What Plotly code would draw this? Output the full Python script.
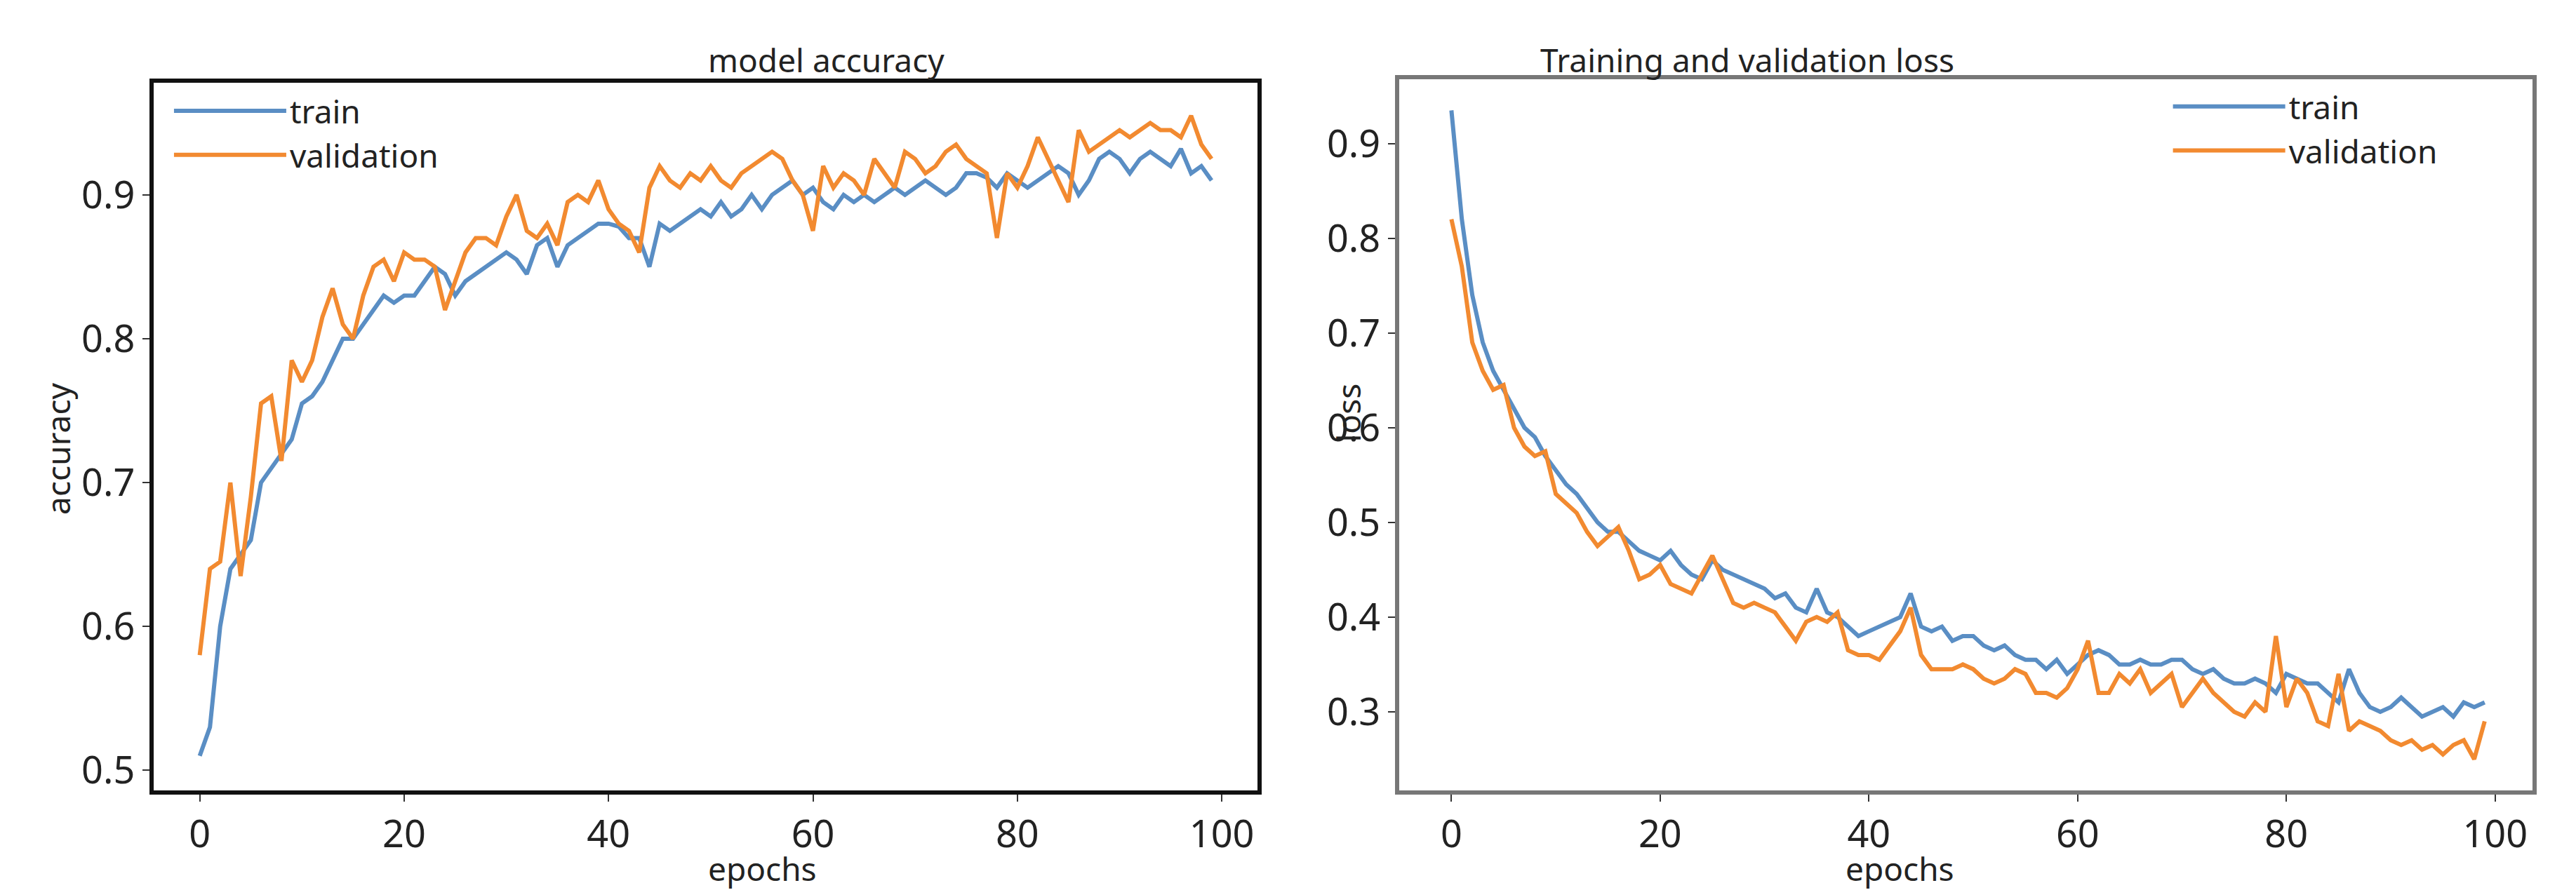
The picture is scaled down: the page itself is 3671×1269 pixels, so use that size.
import plotly.graph_objects as go
from plotly.subplots import make_subplots

acc_train = [0.51, 0.53, 0.60, 0.64, 0.65, 0.66, 0.70, 0.71, 0.72, 0.73,
             0.755, 0.76, 0.77, 0.785, 0.80, 0.80, 0.81, 0.82, 0.83, 0.825,
             0.83, 0.83, 0.84, 0.85, 0.845, 0.83, 0.84, 0.845, 0.85, 0.855,
             0.86, 0.855, 0.845, 0.865, 0.87, 0.85, 0.865, 0.87, 0.875, 0.88,
             0.88, 0.878, 0.87, 0.87, 0.85, 0.88, 0.875, 0.88, 0.885, 0.89,
             0.885, 0.895, 0.885, 0.89, 0.90, 0.89, 0.90, 0.905, 0.91, 0.90,
             0.905, 0.895, 0.89, 0.90, 0.895, 0.90, 0.895, 0.90, 0.905, 0.90,
             0.905, 0.91, 0.905, 0.90, 0.905, 0.915, 0.915, 0.912, 0.905, 0.915,
             0.91, 0.905, 0.91, 0.915, 0.92, 0.915, 0.90, 0.91, 0.925, 0.93,
             0.925, 0.915, 0.925, 0.93, 0.925, 0.92, 0.932, 0.915, 0.92, 0.91]
acc_val = [0.58, 0.64, 0.645, 0.70, 0.635, 0.69, 0.755, 0.76, 0.715, 0.785,
           0.77, 0.785, 0.815, 0.835, 0.81, 0.80, 0.83, 0.85, 0.855, 0.84,
           0.86, 0.855, 0.855, 0.85, 0.82, 0.84, 0.86, 0.87, 0.87, 0.865,
           0.885, 0.90, 0.875, 0.87, 0.88, 0.865, 0.895, 0.90, 0.895, 0.91,
           0.89, 0.88, 0.875, 0.86, 0.905, 0.92, 0.91, 0.905, 0.915, 0.91,
           0.92, 0.91, 0.905, 0.915, 0.92, 0.925, 0.93, 0.925, 0.91, 0.90,
           0.875, 0.92, 0.905, 0.915, 0.91, 0.90, 0.925, 0.915, 0.905, 0.93,
           0.925, 0.915, 0.92, 0.93, 0.935, 0.925, 0.92, 0.915, 0.87, 0.915,
           0.905, 0.92, 0.94, 0.925, 0.91, 0.895, 0.945, 0.93, 0.935, 0.94,
           0.945, 0.94, 0.945, 0.95, 0.945, 0.945, 0.94, 0.955, 0.935, 0.925]
loss_train = [0.935, 0.82, 0.74, 0.69, 0.66, 0.64, 0.62, 0.60, 0.59, 0.57,
              0.555, 0.54, 0.53, 0.515, 0.50, 0.49, 0.49, 0.48, 0.47, 0.465,
              0.46, 0.47, 0.455, 0.445, 0.44, 0.46, 0.45, 0.445, 0.44, 0.435,
              0.43, 0.42, 0.425, 0.41, 0.405, 0.43, 0.405, 0.40, 0.39, 0.38,
              0.385, 0.39, 0.395, 0.40, 0.425, 0.39, 0.385, 0.39, 0.375, 0.38,
              0.38, 0.37, 0.365, 0.37, 0.36, 0.355, 0.355, 0.345, 0.355, 0.34,
              0.35, 0.36, 0.365, 0.36, 0.35, 0.35, 0.355, 0.35, 0.35, 0.355,
              0.355, 0.345, 0.34, 0.345, 0.335, 0.33, 0.33, 0.335, 0.33, 0.32,
              0.34, 0.335, 0.33, 0.33, 0.32, 0.31, 0.345, 0.32, 0.305, 0.30,
              0.305, 0.315, 0.305, 0.295, 0.30, 0.305, 0.295, 0.31, 0.305, 0.31]
loss_val = [0.82, 0.77, 0.69, 0.66, 0.64, 0.645, 0.60, 0.58, 0.57, 0.575,
            0.53, 0.52, 0.51, 0.49, 0.475, 0.485, 0.495, 0.47, 0.44, 0.445,
            0.455, 0.435, 0.43, 0.425, 0.445, 0.465, 0.44, 0.415, 0.41, 0.415,
            0.41, 0.405, 0.39, 0.375, 0.395, 0.40, 0.395, 0.405, 0.365, 0.36,
            0.36, 0.355, 0.37, 0.385, 0.41, 0.36, 0.345, 0.345, 0.345, 0.35,
            0.345, 0.335, 0.33, 0.335, 0.345, 0.34, 0.32, 0.32, 0.315, 0.325,
            0.345, 0.375, 0.32, 0.32, 0.34, 0.33, 0.345, 0.32, 0.33, 0.34,
            0.305, 0.32, 0.335, 0.32, 0.31, 0.30, 0.295, 0.31, 0.30, 0.38,
            0.305, 0.335, 0.32, 0.29, 0.285, 0.34, 0.28, 0.29, 0.285, 0.28,
            0.27, 0.265, 0.27, 0.26, 0.265, 0.255, 0.265, 0.27, 0.25, 0.29]

BLUE = "#5a8ec4"
ORANGE = "#f28a30"
FONT = "Noto Sans"

fig = make_subplots(rows=1, cols=2)

def add(vals, name, color, col, legend):
    fig.add_trace(go.Scatter(x=list(range(len(vals))), y=vals, mode="lines", name=name,
                             line=dict(color=color, width=6), legend=legend),
                  row=1, col=col)

add(acc_train, "train", BLUE, 1, "legend")
add(acc_val, "validation", ORANGE, 1, "legend")
add(loss_train, "train", BLUE, 2, "legend2")
add(loss_val, "validation", ORANGE, 2, "legend2")

axis_common = dict(showgrid=False, zeroline=False, ticks="outside", ticklen=10,
                   tickwidth=2, tickcolor="#333", mirror=True, showline=True,
                   tickfont=dict(size=54, family=FONT, color="#222"))
fig.update_xaxes(axis_common, tickvals=[0, 20, 40, 60, 80, 100])
fig.update_xaxes(domain=[0.0575, 0.486], range=[-4.5, 103.5], linecolor="#111", linewidth=6, row=1, col=1)
fig.update_xaxes(domain=[0.541, 0.981], range=[-5, 103.6], linecolor="#777", linewidth=6, row=1, col=2)
fig.update_yaxes(axis_common)
fig.update_yaxes(domain=[0.114, 0.913], range=[0.486, 0.978], tickvals=[0.5, 0.6, 0.7, 0.8, 0.9],
                 linecolor="#111", linewidth=6, row=1, col=1)
fig.update_yaxes(domain=[0.114, 0.917], range=[0.217, 0.968], tickvals=[0.3, 0.4, 0.5, 0.6, 0.7, 0.8, 0.9],
                 linecolor="#777", linewidth=6, row=1, col=2)

ann_font = dict(size=46, family=FONT, color="#222")
annotations = [
    dict(text="model accuracy", x=0.272, y=0.965, xref="paper", yref="paper", showarrow=False, font=ann_font),
    dict(text="Training and validation loss", x=0.757, y=0.965, xref="paper", yref="paper", showarrow=False, font=ann_font),
    dict(text="epochs", x=0.272, y=0.0, xref="paper", yref="paper", showarrow=False, font=ann_font, yanchor="bottom"),
    dict(text="epochs", x=0.757, y=0.0, xref="paper", yref="paper", showarrow=False, font=ann_font, yanchor="bottom"),
    dict(text="accuracy", x=0.011, y=0.5, xref="paper", yref="paper", showarrow=False, font=ann_font, textangle=-90),
    dict(text="loss", x=0.521, y=0.54, xref="paper", yref="paper", showarrow=False, font=ann_font, textangle=-90),
]

legend_style = dict(font=dict(size=46, family=FONT, color="#222"), bgcolor="rgba(0,0,0,0)",
                    itemwidth=160, tracegroupgap=10)
fig.update_layout(
    width=3671, height=1269,
    paper_bgcolor="white", plot_bgcolor="white",
    margin=dict(l=0, r=0, t=0, b=0),
    annotations=annotations,
    legend=dict(legend_style, x=0.064, y=0.91, xanchor="left", yanchor="top"),
    legend2=dict(legend_style, x=0.84, y=0.915, xanchor="left", yanchor="top"),
)

fig.write_html("out.html")
